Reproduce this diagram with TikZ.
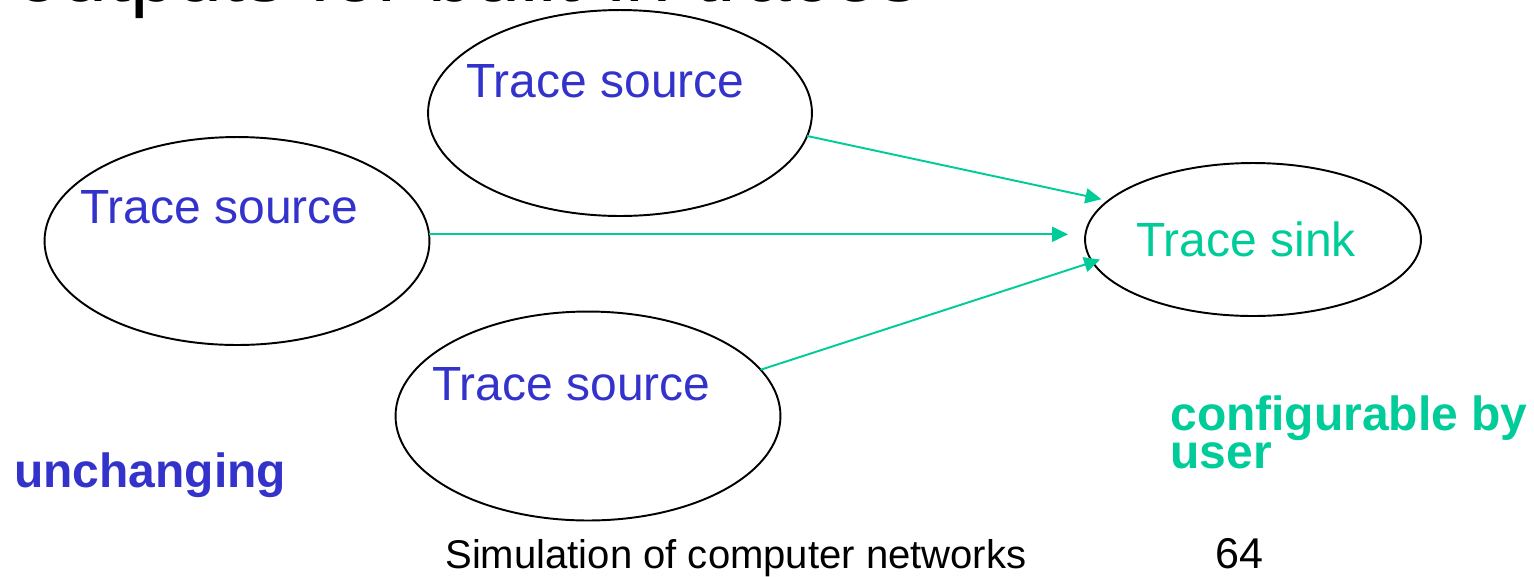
\documentclass[tikz,border=0pt]{standalone}
\usepackage{fontspec}
\setmainfont{Liberation Sans}
\usetikzlibrary{shapes.geometric,arrows.meta}
\definecolor{srcblue}{RGB}{51,51,204}
\definecolor{sinkgreen}{RGB}{0,204,153}
\tikzset{
  blob/.style={draw=black, line width=1.1pt, ellipse, inner sep=0pt, outer sep=0pt},
  label48/.style={inner sep=0pt, anchor=base west, font=\fontsize{27.3pt}{30pt}\selectfont},
  flow/.style={draw=sinkgreen, line width=1.1pt, -{Triangle[length=0.32cm,width=0.30cm]}},
}
\begin{document}
\begin{tikzpicture}[x=0.02cm, y=-0.02cm]
  \useasboundingbox (0,0) rectangle (1534,576);
  \clip (0,0) rectangle (1534,576);

  % heading, running off the top edge
  \node[inner sep=0pt, anchor=base west, font=\fontsize{47pt}{50pt}\selectfont] (title) at (15,1) {outputs for built-in traces};

  % sources and sink
  \node[blob, minimum width=7.68cm, minimum height=4.12cm] (srcA) at (620,113) {};
  \node[blob, minimum width=7.70cm, minimum height=4.16cm] (srcB) at (237,241) {};
  \node[blob, minimum width=7.70cm, minimum height=4.18cm] (srcC) at (588,416) {};
  \node[blob, minimum width=6.72cm, minimum height=3.06cm] (sink) at (1253,239.5) {};

  \node[label48, text=srcblue] (tA) at (466,97) {Trace source};
  \node[label48, text=srcblue] (tB) at (80,223) {Trace source};
  \node[label48, text=srcblue] (tC) at (432,400) {Trace source};
  \node[label48, text=sinkgreen] (tS) at (1136,256) {Trace sink};

  % connectors into the sink
  \draw[flow, shorten >=0.14cm] (srcA.-7.4) -- (sink.165.7);
  \draw[flow, shorten >=0.34cm] (srcB.2.7) -- (srcB.2.7 -| sink.west);
  \draw[flow, shorten >=-0.16cm] (srcC.15.5) -- (sink.-172.2);

  % captions (base anchor of the two-line block sits on its last line)
  \node[label48, text=srcblue, font=\fontsize{27.3pt}{30pt}\selectfont\bfseries] (unch) at (14,487) {unchanging};
  \node[label48, text=sinkgreen, align=left, font=\fontsize{27.3pt}{21.6pt}\selectfont\bfseries] (cfg) at (1170,468) {configurable by\\user};

  % footer
  \node[inner sep=0pt, anchor=base west, font=\fontsize{22.8pt}{25pt}\selectfont] (foot) at (445,568) {Simulation of computer networks};
  \node[inner sep=0pt, anchor=base west, font=\fontsize{24.5pt}{27pt}\selectfont] (page) at (1215,568) {64};
\end{tikzpicture}
\end{document}
